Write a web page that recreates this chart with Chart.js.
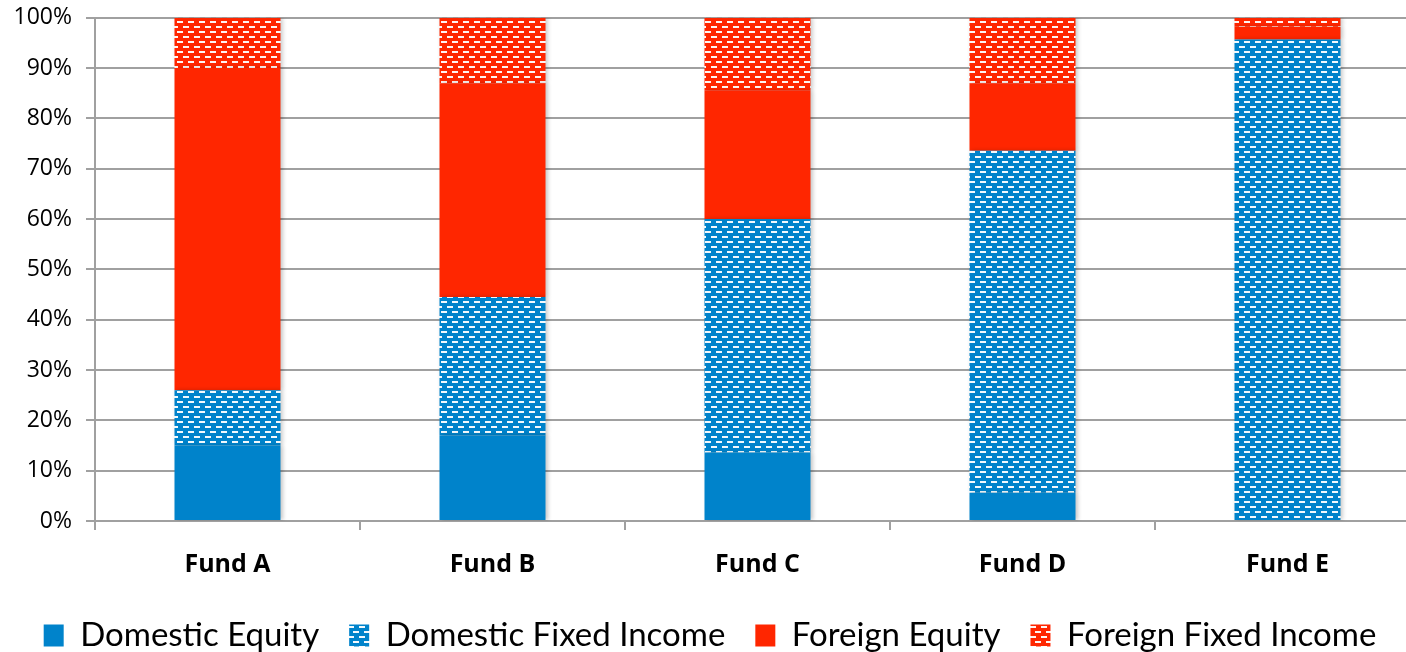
<!DOCTYPE html>
<html>
<head>
<meta charset="utf-8">
<script src="https://cdn.jsdelivr.net/npm/chart.js@4"></script>
<style>
  html, body { margin: 0; padding: 0; background: #fff; overflow: hidden; }
  #wrap { position: absolute; left: 0; top: -10px; width: 1420px; height: 672px; }
</style>
</head>
<body>
<div id="wrap"><canvas id="allocChart"></canvas></div>
<script>
const funds = ['Fund A', 'Fund B', 'Fund C', 'Fund D', 'Fund E'];
const domesticEquity = [15, 17, 13.6, 5.6, 0];
const domesticFixedIncome = [11, 27.5, 46.4, 68, 95.7];
const foreignEquity = [64, 42.5, 25.5, 13.4, 2.5];
const foreignFixedIncome = [10, 13, 14.5, 13, 1.8];
const yTicks = [0, 10, 20, 30, 40, 50, 60, 70, 80, 90, 100];

const BLUE = '#0083cb';
const RED = '#ff2600';

// dashed pattern like the office "small confetti" fill
function makePattern(color) {
    const c = document.createElement('canvas');
    c.width = 11;
    c.height = 10;
    const g = c.getContext('2d');
    g.fillStyle = color;
    g.fillRect(0, 0, 11, 10);
    g.fillStyle = 'rgba(255,255,255,0.95)';
    g.fillRect(1, 1, 6, 2);
    g.fillRect(7, 6, 4, 2);
    g.fillRect(0, 6, 2, 2);
    return document.createElement('canvas').getContext('2d').createPattern(c, 'repeat');
}

const barShadow = {
    id: 'barShadow',
    beforeDatasetsDraw(chart) {
        const ctx = chart.ctx;
        ctx.save();
        ctx.shadowColor = 'rgba(0,0,0,0.22)';
        ctx.shadowBlur = 4;
        ctx.shadowOffsetX = 2;
        ctx.shadowOffsetY = 0;
    },
    afterDatasetsDraw(chart) {
        chart.ctx.restore();
    }
};

const common = { barPercentage: 0.4, categoryPercentage: 1.0, borderWidth: 0 };

const allocChart = new Chart(document.getElementById('allocChart'), {
    type: 'bar',
    data: {
        labels: funds,
        datasets: [
            Object.assign({ label: 'Domestic Equity', data: domesticEquity, backgroundColor: BLUE }, common),
            Object.assign({ label: 'Domestic Fixed Income', data: domesticFixedIncome, backgroundColor: makePattern(BLUE) }, common),
            Object.assign({ label: 'Foreign Equity', data: foreignEquity, backgroundColor: RED }, common),
            Object.assign({ label: 'Foreign Fixed Income', data: foreignFixedIncome, backgroundColor: makePattern(RED) }, common)
        ]
    },
    plugins: [barShadow],
    options: {
        responsive: true,
        maintainAspectRatio: false,
        animation: false,
        layout: { padding: { top: 0, right: 0, left: 0, bottom: 0 } },
        plugins: {
            tooltip: { enabled: false },
            legend: {
                position: 'bottom',
                labels: {
                    font: { family: 'Lato', size: 33 },
                    color: '#000',
                    boxWidth: 20,
                    boxHeight: 22,
                    padding: 30
                }
            }
        },
        scales: {
            x: {
                stacked: true,
                grid: { offset: true, drawOnChartArea: false, color: '#a0a0a0', lineWidth: 2, tickLength: 9 },
                border: { color: '#a0a0a0', width: 2 },
                ticks: { color: '#000', font: { family: 'Open Sans', size: 25, weight: 'bold' }, padding: 20 },
                afterFit(scale) { scale.height = 68; }
            },
            y: {
                stacked: true,
                min: 0,
                max: 100,
                afterBuildTicks(scale) { scale.ticks = yTicks.map(v => ({ value: v })); },
                grid: { color: '#a0a0a0', lineWidth: 2, tickLength: 9 },
                border: { color: '#a0a0a0', width: 2 },
                ticks: {
                    color: '#000',
                    font: { family: 'Open Sans', size: 23 },
                    padding: 14,
                    callback: v => v + '%'
                },
                afterFit(scale) { scale.width = 95; }
            }
        }
    }
});
</script>
</body>
</html>
